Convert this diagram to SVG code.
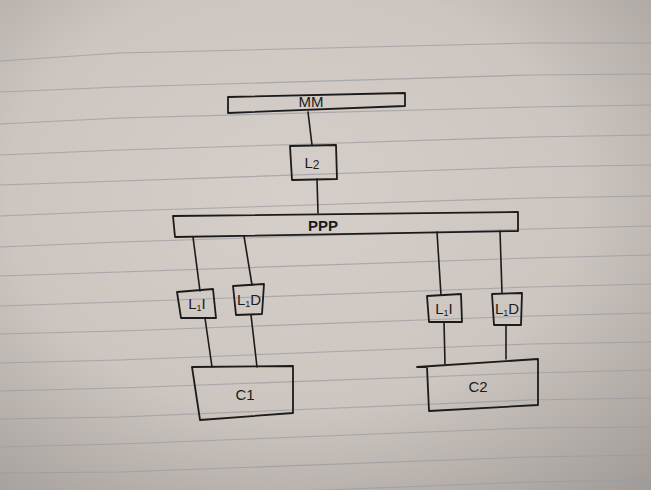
<svg xmlns="http://www.w3.org/2000/svg" width="651" height="490" viewBox="0 0 651 490">
  <defs>
    <radialGradient id="paper" cx="0.45" cy="0.4" r="0.8">
      <stop offset="0" stop-color="#d5cec9"/>
      <stop offset="0.55" stop-color="#ccc5c0"/>
      <stop offset="1" stop-color="#a29c98"/>
    </radialGradient>
    <style>
      .rule { stroke: #9a9ca1; stroke-width: 1.1; fill: none; opacity: 0.75; }
      .box { fill: none; stroke: #1c1b1b; stroke-width: 1.8; stroke-linejoin: round; }
      .wire { fill: none; stroke: #1c1b1b; stroke-width: 1.6; stroke-linecap: round; }
      .lbl { font-family: "Liberation Sans", "DejaVu Sans", sans-serif; font-size: 15px; fill: #1c1b1b; text-anchor: middle; }
    </style>
  </defs>
  <rect x="0" y="0" width="651" height="490" fill="url(#paper)"/>
  <g id="ruling">
    <polyline class="rule" points="0,61 120,53 530,43 651,43"/>
    <polyline class="rule" points="0,92 120,87 530,75 651,74"/>
    <polyline class="rule" points="0,124 120,118 530,107 651,105"/>
    <polyline class="rule" points="0,155 120,150 530,137 651,135"/>
    <polyline class="rule" points="0,185 120,181 530,167 651,165"/>
    <polyline class="rule" points="0,216 120,211 530,198 651,196"/>
    <polyline class="rule" points="0,247 120,242 530,229 651,226"/>
    <polyline class="rule" points="0,276 120,272 530,258 651,255"/>
    <polyline class="rule" points="0,306 120,302 530,287 651,284"/>
    <polyline class="rule" points="0,334 120,331 530,316 651,313"/>
    <polyline class="rule" points="0,363 120,360 530,344 651,342"/>
    <polyline class="rule" points="0,391 120,388 530,373 651,370"/>
    <polyline class="rule" points="0,419 120,417 530,400 651,398"/>
    <polyline class="rule" points="0,447 120,444 530,428 651,427"/>
    <polyline class="rule" points="0,473 120,472 530,457 651,455"/>
    <polyline class="rule" points="0,500 120,498 530,482 651,480"/>
  </g>
  <g id="connectors">
    <line class="wire" x1="308" y1="112" x2="312" y2="145"/>
    <line class="wire" x1="317" y1="179" x2="318" y2="213"/>
    <line class="wire" x1="193" y1="237" x2="200" y2="291"/>
    <line class="wire" x1="244" y1="236" x2="252" y2="285"/>
    <line class="wire" x1="437" y1="232" x2="441" y2="295"/>
    <line class="wire" x1="500" y1="231" x2="502" y2="293"/>
    <line class="wire" x1="205" y1="318" x2="212" y2="367"/>
    <line class="wire" x1="251" y1="315" x2="257" y2="367"/>
    <line class="wire" x1="444" y1="322" x2="445" y2="364"/>
    <line class="wire" x1="506" y1="325" x2="506" y2="359"/>
  </g>
  <g id="MM">
    <polygon class="box" points="228,97 405,93 405,106 228,113"/>
    <text class="lbl" x="311" y="107" font-size="16">MM</text>
  </g>
  <g id="L2">
    <polygon class="box" points="290,146 336,145 337,179 292,180"/>
    <text class="lbl" x="312" y="168" font-size="16">L<tspan dy="1" font-size="12">2</tspan></text>
  </g>
  <g id="PPP">
    <polygon class="box" points="173,216 518,212 518,231 175,237"/>
    <text class="lbl" x="323" y="231" font-size="14" font-weight="bold">PPP</text>
  </g>
  <g id="L1I_left">
    <polygon class="box" points="177,292 213,289 216,318 181,318"/>
    <text class="lbl" x="197" y="309">L<tspan dy="2" font-size="9">1</tspan><tspan dy="-2">I</tspan></text>
  </g>
  <g id="L1D_left">
    <polygon class="box" points="233,286 264,284 262,314 236,315"/>
    <text class="lbl" x="249" y="305">L<tspan dy="2" font-size="9">1</tspan><tspan dy="-2">D</tspan></text>
  </g>
  <g id="C1">
    <polygon class="box" points="192,367 293,366 293,413 200,420"/>
    <text class="lbl" x="245" y="400" font-size="18">C1</text>
  </g>
  <g id="L1I_right">
    <polygon class="box" points="427,296 461,294 462,322 429,322"/>
    <text class="lbl" x="444" y="314">L<tspan dy="2" font-size="9">1</tspan><tspan dy="-2">I</tspan></text>
  </g>
  <g id="L1D_right">
    <polygon class="box" points="492,294 522,293 521,325 494,325"/>
    <text class="lbl" x="507" y="314">L<tspan dy="2" font-size="9">1</tspan><tspan dy="-2">D</tspan></text>
  </g>
  <g id="C2">
    <polygon class="box" points="417,367 538,359 538,405 429,411 427,367"/>
    <text class="lbl" x="478" y="392" font-size="19">C2</text>
  </g>
</svg>
